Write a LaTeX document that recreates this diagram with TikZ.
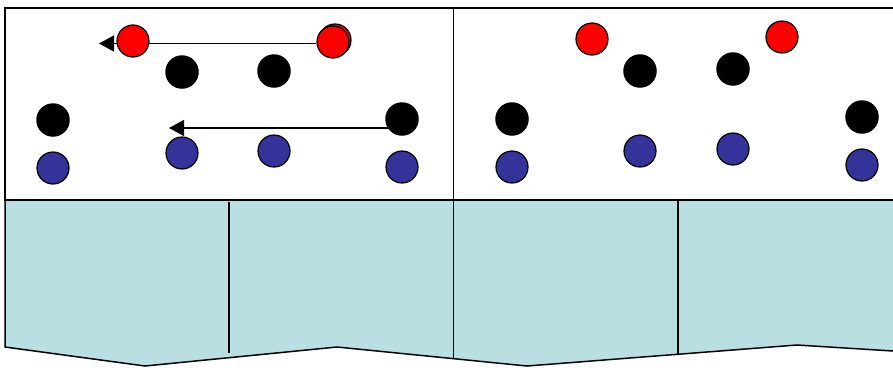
\documentclass[tikz,border=0pt]{standalone}
\usetikzlibrary{arrows.meta}
\definecolor{wall}{HTML}{B9DFE2}
\definecolor{bluedot}{HTML}{333399}
\tikzset{
  reddot/.style={circle,draw=black,line width=1.2pt,fill=red,minimum size=32pt,inner sep=0pt},
  bdot/.style={circle,draw=black,line width=1.2pt,fill=bluedot,minimum size=32pt,inner sep=0pt},
  kdot/.style={circle,fill=black,minimum size=33.5pt,inner sep=0pt},
  edge/.style={line width=1.5pt,black},
  move/.style={line width=1.3pt,-{Triangle[length=15pt,width=16pt]}},
}
\begin{document}
\begin{tikzpicture}[x=1pt,y=-1pt]
\useasboundingbox (0,0) rectangle (893,367);
% lower blue region
\fill[wall] (5,200) -- (893,200) -- (893,351) -- (797,345) -- (527,366) -- (337,347) -- (145,366) -- (5,347) -- cycle;
\draw[edge] (5,200) -- (5,347) -- (145,366) -- (337,347) -- (527,366) -- (797,345) -- (893,351);
% upper box
\draw[edge] (893,8) -- (5,8) -- (5,200) -- (893,200);
\draw[edge] (453.5,8) -- (453.5,358);
\draw[edge] (229,202) -- (229,353);
\draw[edge] (678,200) -- (678,354);
% left panel dots
\node[reddot] (r2b) at (335,40) {};
\node[reddot] (r2) at (333,42) {};
\coordinate (t1) at (99,43.5);
\draw[move] (r2.west |- t1) -- (t1);
\node[reddot] (r1) at (133,41) {};
\node[kdot] (k1) at (182,72) {};
\node[kdot] (k2) at (274,71) {};
\node[kdot] (k3) at (53,120) {};
\node[kdot] (k4) at (402,119) {};
\coordinate (t2) at (169,128);
\draw[move] (k4.center |- t2) -- (t2);
\node[bdot] (b1) at (53,168) {};
\node[bdot] (b2) at (182,153) {};
\node[bdot] (b3) at (274,151) {};
\node[bdot] (b4) at (402,167) {};
% right panel dots
\node[reddot] (r3) at (592,39) {};
\node[reddot] (r4) at (782,37) {};
\node[kdot] (k5) at (640,71) {};
\node[kdot] (k6) at (733,69) {};
\node[kdot] (k7) at (512,119) {};
\node[kdot] (k8) at (862,117) {};
\node[bdot] (b5) at (512,167) {};
\node[bdot] (b6) at (640,151) {};
\node[bdot] (b7) at (733,149) {};
\node[bdot] (b8) at (862,165) {};
\end{tikzpicture}
\end{document}
